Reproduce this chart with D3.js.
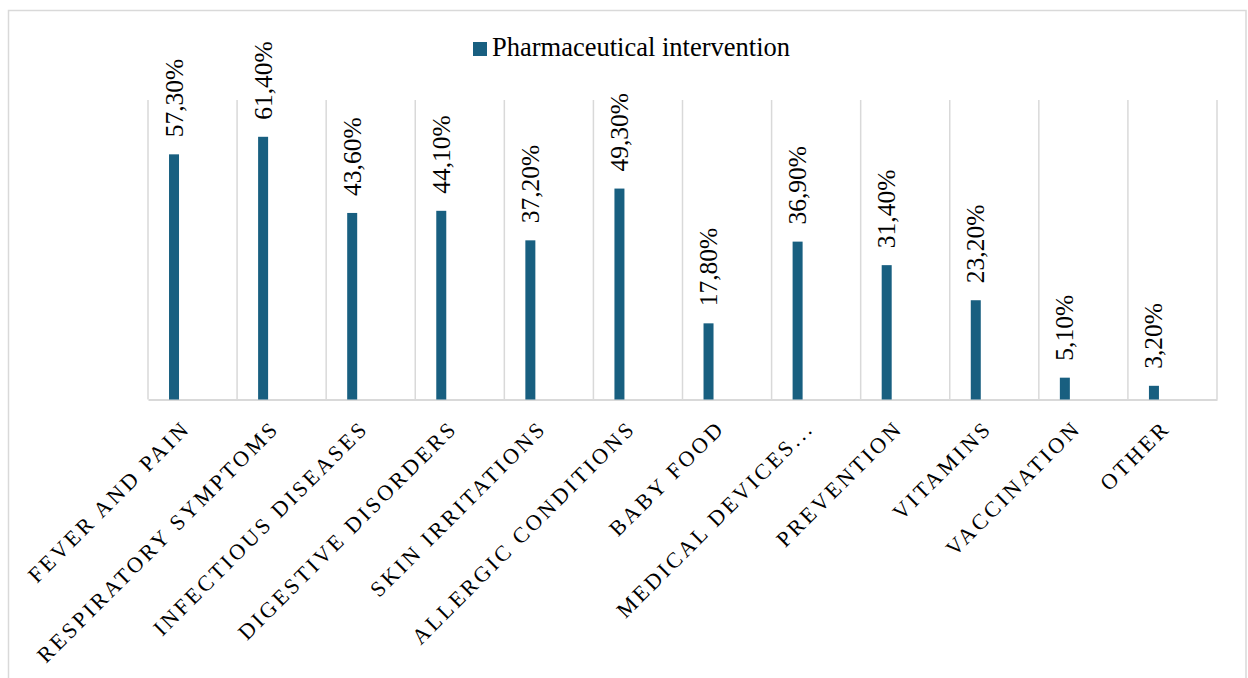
<!DOCTYPE html>
<html>
<head>
<meta charset="utf-8">
<script src="https://cdn.jsdelivr.net/npm/d3@7"></script>
<style>
  html, body { margin: 0; padding: 0; background: #ffffff; }
  svg { display: block; }
  svg text { font-family: "Liberation Serif", "Times New Roman", "DejaVu Serif", serif; }
</style>
</head>
<body>
<svg id="chart" width="1248" height="678"></svg>
<script>
// Share of respondents per category (percent)
const categories = [
  "Fever and pain", "Respiratory symptoms", "Infectious diseases",
  "Digestive disorders", "Skin irritations", "Allergic conditions",
  "Baby food", "Medical devices...", "Prevention", "Vitamins",
  "Vaccination", "Other"
];
const interventionValues = [57.3, 61.4, 43.6, 44.1, 37.2, 49.3, 17.8, 36.9, 31.4, 23.2, 5.1, 3.2];
const seriesName = "Pharmaceutical intervention";
const yDomain = [0, 70];

const data = categories.map((c, i) => ({ category: c, value: interventionValues[i] }));

const svg = d3.select("#chart");
const barColor = "#185f80";
const gridColor = "#d9d9d9";

// outer chart frame (bottom edge runs past the page)
svg.append("rect")
  .attr("x", 8.5).attr("y", 10.5)
  .attr("width", 1237.5).attr("height", 720)
  .attr("fill", "#ffffff")
  .attr("stroke", gridColor).attr("stroke-width", 1.5);

const plot = { left: 148, right: 1217, top: 100, bottom: 399.5 };

const x = d3.scaleBand()
  .domain(categories)
  .range([plot.left, plot.right])
  .padding(0);

const y = d3.scaleLinear()
  .domain(yDomain)
  .range([plot.bottom, plot.top]);

// vertical separators between categories
const bounds = categories.map(c => x(c)).concat([plot.right]);
svg.append("g").selectAll("line")
  .data(bounds)
  .join("line")
  .attr("x1", d => d).attr("x2", d => d)
  .attr("y1", plot.top).attr("y2", plot.bottom)
  .attr("stroke", gridColor).attr("stroke-width", 1.5);

// category axis
const xAxis = svg.append("g")
  .attr("transform", `translate(0,${plot.bottom})`)
  .call(d3.axisBottom(x).tickSize(0).tickFormat(""));
xAxis.select(".domain").attr("stroke", gridColor).attr("stroke-width", 2);

// bars sit toward the left of each category slot
const barOffset = x.bandwidth() * 0.236;
const barWidth = 10;

svg.append("g").selectAll("rect")
  .data(data)
  .join("rect")
  .attr("x", d => x(d.category) + barOffset)
  .attr("y", d => y(d.value))
  .attr("width", barWidth)
  .attr("height", d => y(0) - y(d.value))
  .attr("fill", barColor);

// value labels, rotated, above each bar
const fmt = v => v.toFixed(2).replace(".", ",") + "%";
svg.append("g").selectAll("text")
  .data(data)
  .join("text")
  .attr("transform", d => `translate(${x(d.category) + barOffset + barWidth / 2 + 8.5},${y(d.value) - 17}) rotate(-90)`)
  .attr("text-anchor", "start")
  .style("font-family", "'Liberation Serif', 'Times New Roman', serif")
  .attr("font-size", 25.5)
  .attr("fill", "#000")
  .text(d => fmt(d.value));

// category labels at 45 degrees
svg.append("g").selectAll("text")
  .data(categories)
  .join("text")
  .attr("transform", d => `translate(${x(d) + x.bandwidth() / 2 - 1},${plot.bottom + 30}) rotate(-45)`)
  .attr("text-anchor", "end")
  .style("font-family", "'Liberation Serif', 'Times New Roman', serif")
  .attr("font-size", 22)
  .attr("letter-spacing", 3)
  .attr("fill", "#000")
  .text(d => d.toUpperCase());

// legend
const legend = svg.append("g").attr("transform", "translate(473,42)");
legend.append("rect")
  .attr("width", 14).attr("height", 14)
  .attr("fill", barColor);
legend.append("text")
  .attr("x", 19).attr("y", 14)
  .style("font-family", "'Liberation Serif', 'Times New Roman', serif")
  .attr("font-size", 26.5)
  .attr("fill", "#000")
  .text(seriesName);
</script>
</body>
</html>
